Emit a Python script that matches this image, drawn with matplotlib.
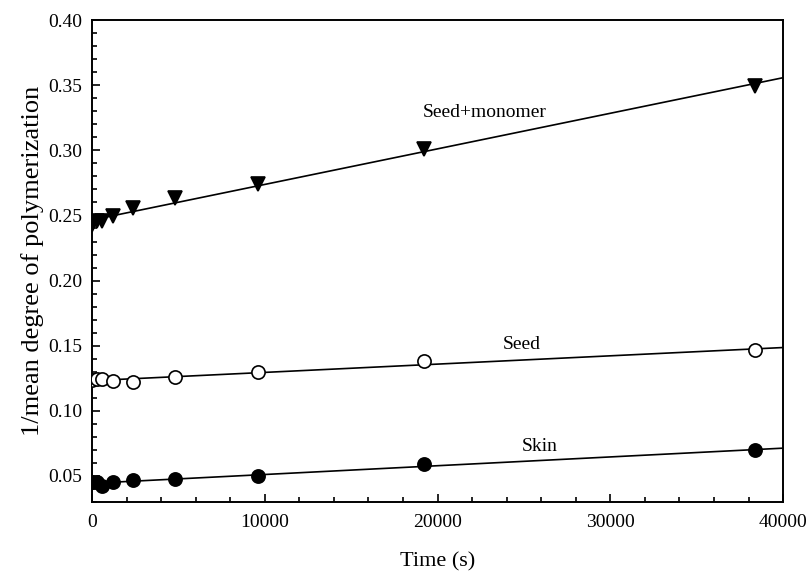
import numpy as np
import matplotlib
matplotlib.use("Agg")
import matplotlib.pyplot as plt
from matplotlib.ticker import MultipleLocator

plt.rcParams['font.family'] = ['Liberation Serif', 'DejaVu Serif']

# sampling times (s)
time_s = [0, 300, 600, 1200, 2400, 4800, 9600, 19200, 38400]

# 1/mean degree of polymerization
seed_monomer = [0.2425, 0.2455, 0.2460, 0.2496, 0.2560, 0.2637, 0.2738, 0.3010, 0.3495]
seed = [0.1234, 0.1247, 0.1242, 0.1226, 0.1222, 0.1257, 0.1298, 0.1379, 0.1464]
skin = [0.0452, 0.0457, 0.0419, 0.0452, 0.0469, 0.0475, 0.0498, 0.0589, 0.0697]

labels = ['Seed+monomer', 'Seed', 'Skin']
label_pos = [(22700, 0.329), (24900, 0.151), (25900, 0.0725)]

fig = plt.figure(figsize=(8.09, 5.75), dpi=100)
ax = fig.add_axes([0.1137, 0.127, 0.968 - 0.1137, 0.965 - 0.127])

xfit = np.array([0, 40000])
for ys, marker, face in [(seed_monomer, 'v', 'black'),
                         (seed, 'o', 'white'),
                         (skin, 'o', 'black')]:
    k, b = np.polyfit(time_s, ys, 1)
    ax.plot(xfit, k * xfit + b, color='black', lw=1.2, zorder=2)
    ax.plot(time_s, ys, ls='none', marker=marker, ms=9.5,
            mfc=face, mec='black', mew=1.2, zorder=3)

for txt, (tx, ty) in zip(labels, label_pos):
    ax.text(tx, ty, txt, ha='center', va='center', fontsize=14)

ax.set_xlim(0, 40000)
ax.set_ylim(0.03, 0.40)
ax.xaxis.set_major_locator(MultipleLocator(10000))
ax.xaxis.set_minor_locator(MultipleLocator(2000))
ax.yaxis.set_major_locator(MultipleLocator(0.05))
ax.yaxis.set_minor_locator(MultipleLocator(0.01))
ax.yaxis.set_major_formatter(plt.FormatStrFormatter('%.2f'))
ax.tick_params(which='both', direction='in', top=False, right=False,
               labelsize=14, width=1.2)
ax.tick_params(which='major', length=6, pad=7)
ax.tick_params(axis='x', which='major', pad=9)
ax.tick_params(which='minor', length=3.5)
for sp in ax.spines.values():
    sp.set_linewidth(1.4)

ax.set_xlabel('Time (s)', fontsize=16, labelpad=15)
ax.set_ylabel('1/mean degree of polymerization', fontsize=19, labelpad=3)

fig.savefig('out.png', dpi=100)
